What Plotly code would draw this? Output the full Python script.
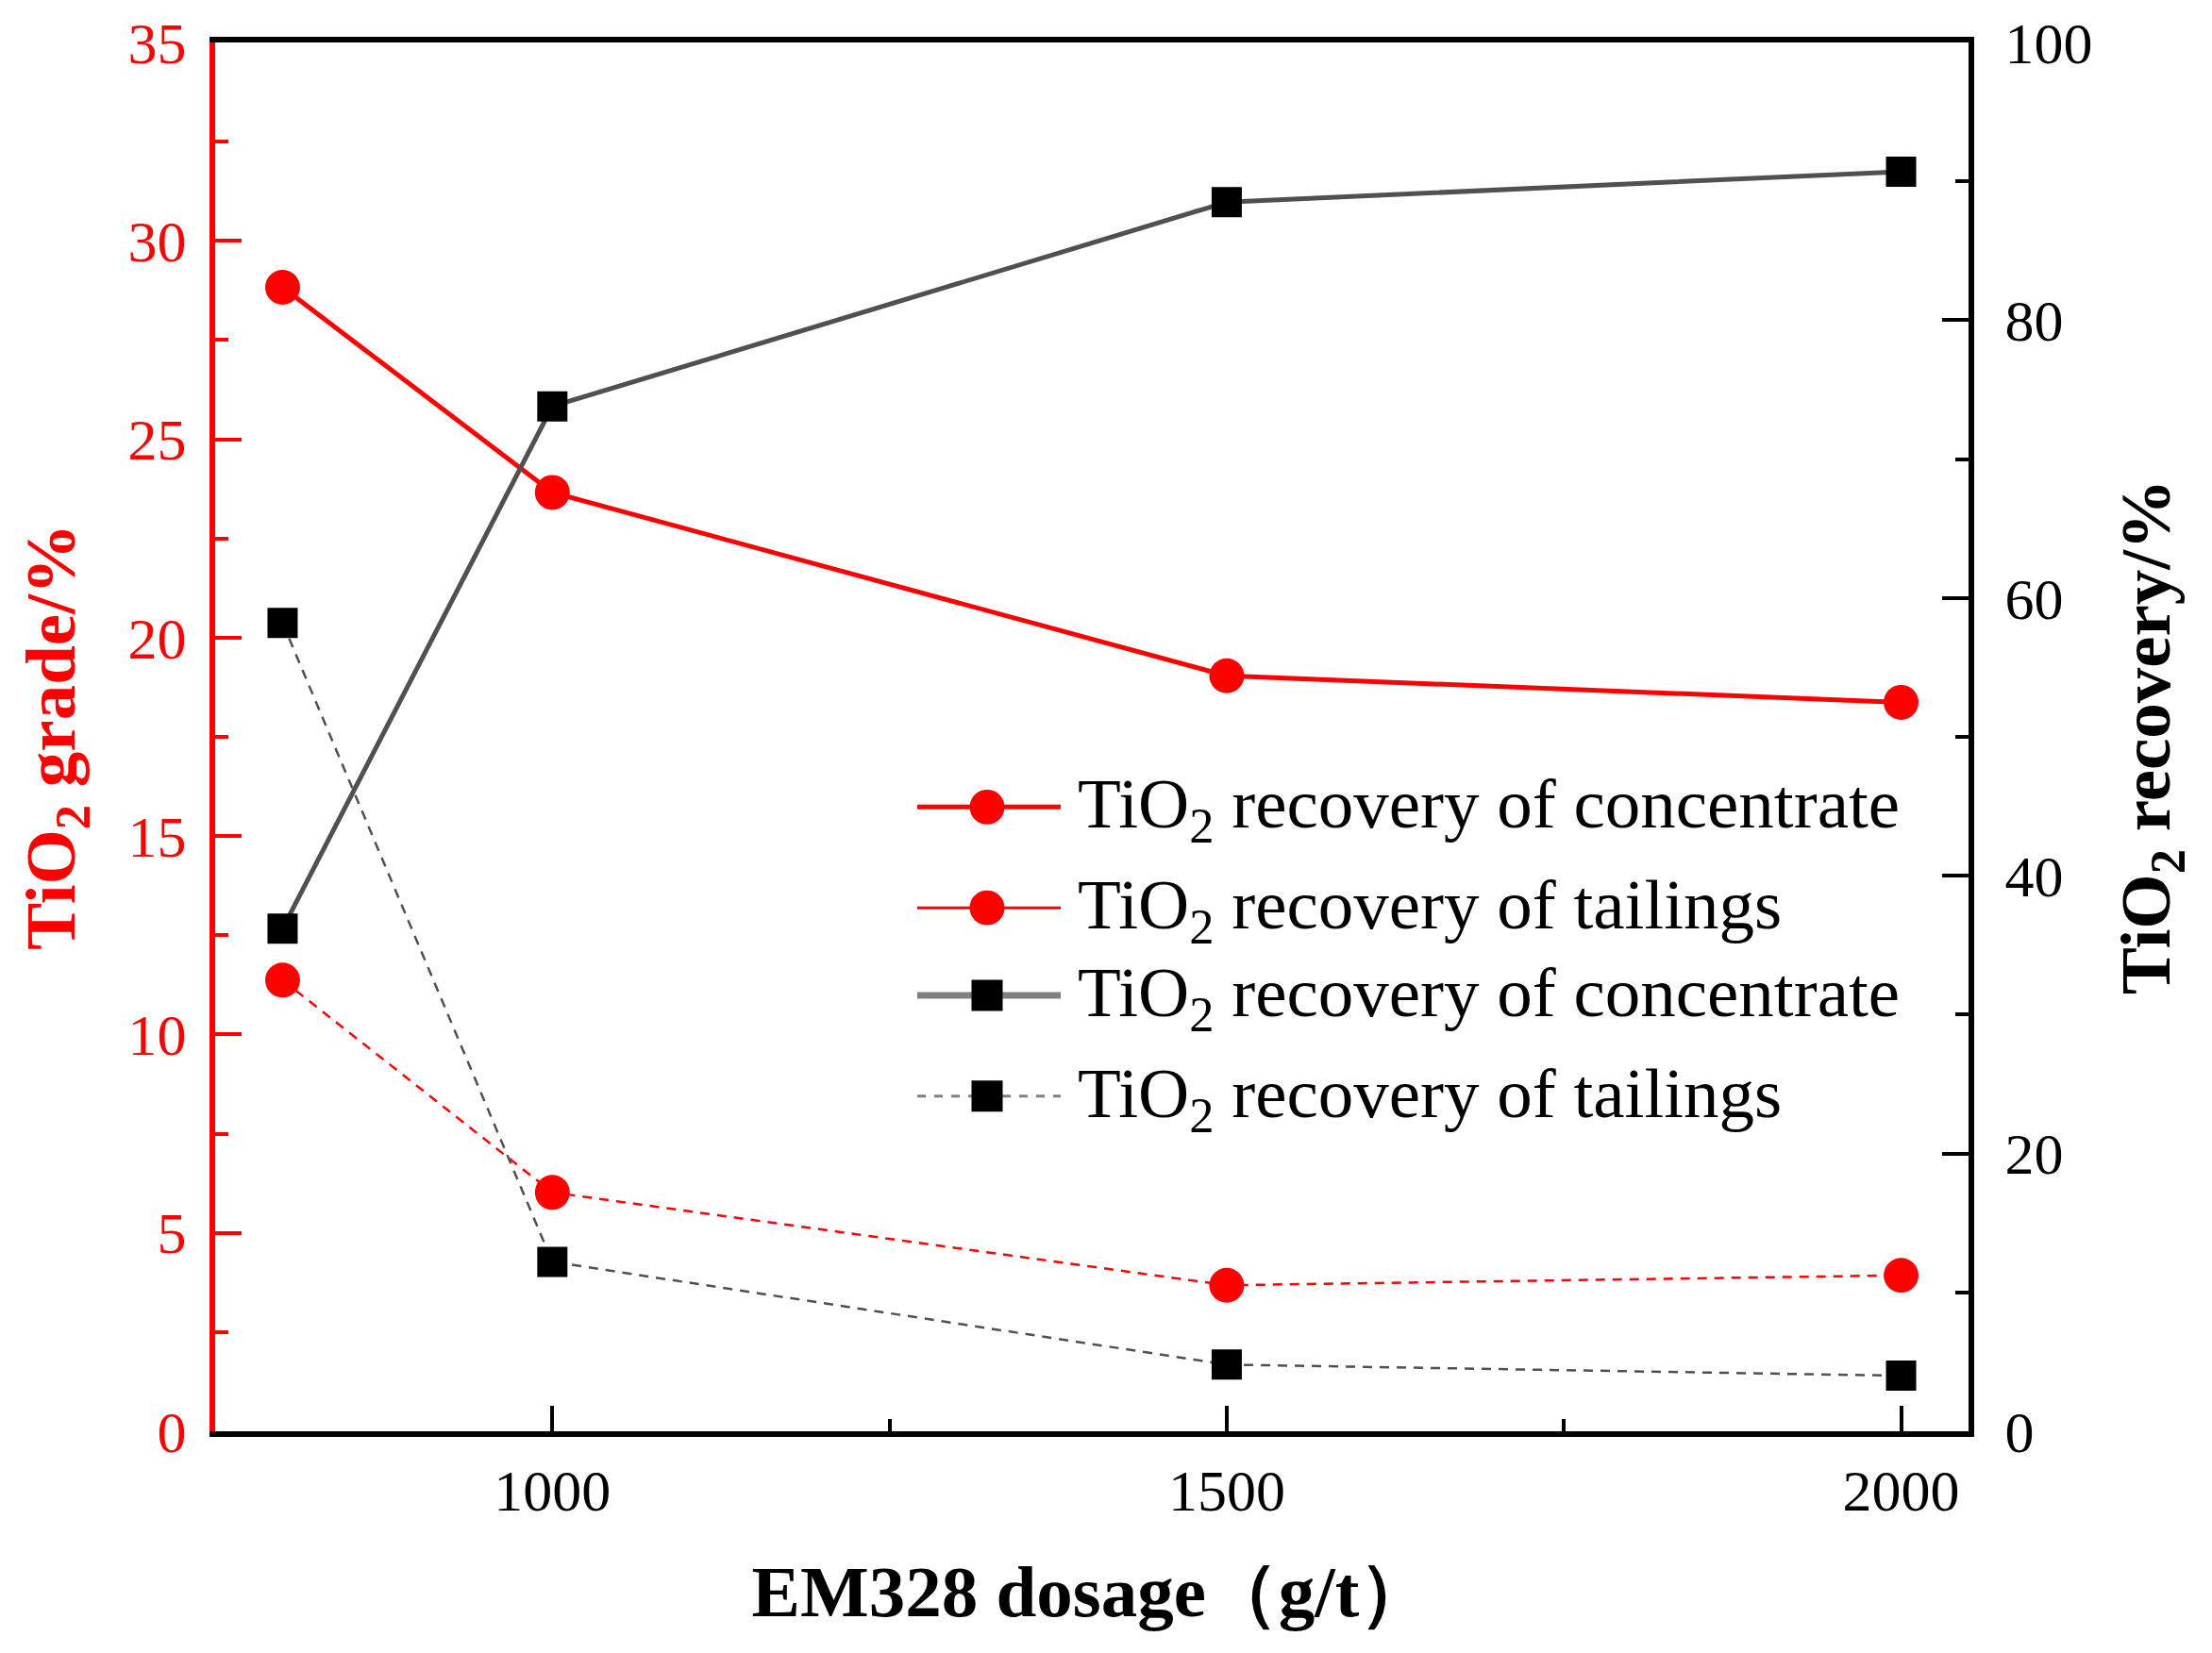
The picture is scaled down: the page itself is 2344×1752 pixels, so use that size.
import plotly.graph_objects as go

# ---------------- data ----------------
dosage = [800, 1000, 1500, 2000]
grade_concentrate = [28.83, 23.66, 19.04, 18.37]
grade_tailings = [11.37, 6.02, 3.68, 3.93]
recovery_concentrate = [36.2, 73.8, 88.5, 90.7]
recovery_tailings = [58.2, 12.2, 4.8, 4.0]

legend_labels = [
    "TiO<sub>2</sub> recovery of concentrate",
    "TiO<sub>2</sub> recovery of tailings",
    "TiO<sub>2</sub> recovery of concentrate",
    "TiO<sub>2</sub> recovery of tailings",
]
x_title = "<b>EM328 dosage（g/t）</b>"
y_title = "<b>TiO<sub>2</sub> grade/%</b>"
y2_title = "<b>TiO<sub>2</sub> recovery/%</b>"

# ---------------- styling ----------------
W, H = 2344, 1752
L, R, T, B = 228, 258, 42, 235
PW, PH = W - L - R, H - T - B
FONT = "Liberation Serif, Times New Roman, serif"
RED = "#ff0000"
GRAY = "#505050"
LEG_GRAY = "#808080"

fig = go.Figure()

fig.add_trace(go.Scatter(
    x=dosage, y=grade_concentrate, mode="lines+markers", yaxis="y",
    line=dict(color=RED, width=5),
    marker=dict(symbol="circle", size=37, color=RED),
    name=legend_labels[0], showlegend=False))
fig.add_trace(go.Scatter(
    x=dosage, y=grade_tailings, mode="lines+markers", yaxis="y",
    line=dict(color=RED, width=2.5, dash="10px,8px"),
    marker=dict(symbol="circle", size=37, color=RED),
    name=legend_labels[1], showlegend=False))
fig.add_trace(go.Scatter(
    x=dosage, y=recovery_concentrate, mode="lines+markers", yaxis="y2",
    line=dict(color=GRAY, width=5),
    marker=dict(symbol="square", size=32, color="black"),
    name=legend_labels[2], showlegend=False))
fig.add_trace(go.Scatter(
    x=dosage, y=recovery_tailings, mode="lines+markers", yaxis="y2",
    line=dict(color=GRAY, width=2.5, dash="10px,8px"),
    marker=dict(symbol="square", size=32, color="black"),
    name=legend_labels[3], showlegend=False))

# ---------------- manual legend (paper coords) ----------------
def px(xp):
    return (xp - L) / PW

def py(yp):
    return (H - B - yp) / PH

leg_rows = [854, 961, 1054, 1161]
leg_styles = [
    dict(lc=RED, lw=5, dash="solid", sym="circle", mc=RED),
    dict(lc=RED, lw=3, dash="solid", sym="circle", mc=RED),
    dict(lc=LEG_GRAY, lw=7, dash="solid", sym="square", mc="black"),
    dict(lc=LEG_GRAY, lw=3, dash="dash", sym="square", mc="black"),
]
shapes = []
annotations = []
for yrow, st, lab in zip(leg_rows, leg_styles, legend_labels):
    shapes.append(dict(type="line", xref="paper", yref="paper",
                       x0=px(972), x1=px(1124), y0=py(yrow), y1=py(yrow),
                       line=dict(color=st["lc"], width=st["lw"], dash=st["dash"])))
    if st["sym"] == "circle":
        r = 18.5
        shapes.append(dict(type="circle", xref="paper", yref="paper",
                           x0=px(1046 - r), x1=px(1046 + r),
                           y0=py(yrow + r), y1=py(yrow - r),
                           fillcolor=st["mc"], line=dict(width=0)))
    else:
        r = 16.5
        shapes.append(dict(type="rect", xref="paper", yref="paper",
                           x0=px(1046 - r), x1=px(1046 + r),
                           y0=py(yrow + r), y1=py(yrow - r),
                           fillcolor=st["mc"], line=dict(width=0)))
    annotations.append(dict(text=lab, xref="paper", yref="paper",
                            x=px(1140), y=py(yrow + 2), xanchor="left", yanchor="middle",
                            showarrow=False,
                            font=dict(family=FONT, size=75, color="black")))

fig.update_layout(
    width=W, height=H,
    margin=dict(l=L, r=R, t=T, b=B, pad=0),
    paper_bgcolor="white", plot_bgcolor="white",
    font=dict(family=FONT, color="black"),
    showlegend=False,
    shapes=shapes,
    annotations=annotations,
    xaxis=dict(
        range=[750, 2050], tick0=1000, dtick=500,
        showline=True, linecolor="black", linewidth=6, mirror=True,
        ticks="inside", ticklen=27, tickwidth=4, tickcolor="black",
        minor=dict(dtick=250, tick0=750, ticks="inside", ticklen=13, tickwidth=4, tickcolor="black"),
        showgrid=False, zeroline=False,
        tickfont=dict(family=FONT, size=62, color="black"),
        ticklabelstandoff=4,
        title=dict(text=x_title, font=dict(family=FONT, size=77, color="black"), standoff=48),
    ),
    yaxis=dict(
        range=[0, 35], tick0=0, dtick=5,
        showline=True, linecolor=RED, linewidth=6,
        ticks="inside", ticklen=28, tickwidth=4, tickcolor=RED,
        minor=dict(dtick=2.5, ticks="inside", ticklen=14, tickwidth=4, tickcolor=RED),
        showgrid=False, zeroline=False,
        tickfont=dict(family=FONT, size=62, color=RED),
        ticklabelstandoff=12,
        title=dict(text=y_title, font=dict(family=FONT, size=75, color=RED), standoff=33),
    ),
    yaxis2=dict(
        range=[0, 100], tick0=0, dtick=20, overlaying="y", side="right",
        showline=True, linecolor="black", linewidth=6,
        ticks="inside", ticklen=28, tickwidth=4, tickcolor="black",
        minor=dict(dtick=10, ticks="inside", ticklen=14, tickwidth=4, tickcolor="black"),
        showgrid=False, zeroline=False,
        tickfont=dict(family=FONT, size=62, color="black"),
        ticklabelstandoff=20,
        title=dict(text=y2_title, font=dict(family=FONT, size=75, color="black"), standoff=32),
    ),
)

fig.write_html("out.html", config={"displayModeBar": False},
               post_script="document.body.style.margin='0';document.body.style.overflow='hidden';")
